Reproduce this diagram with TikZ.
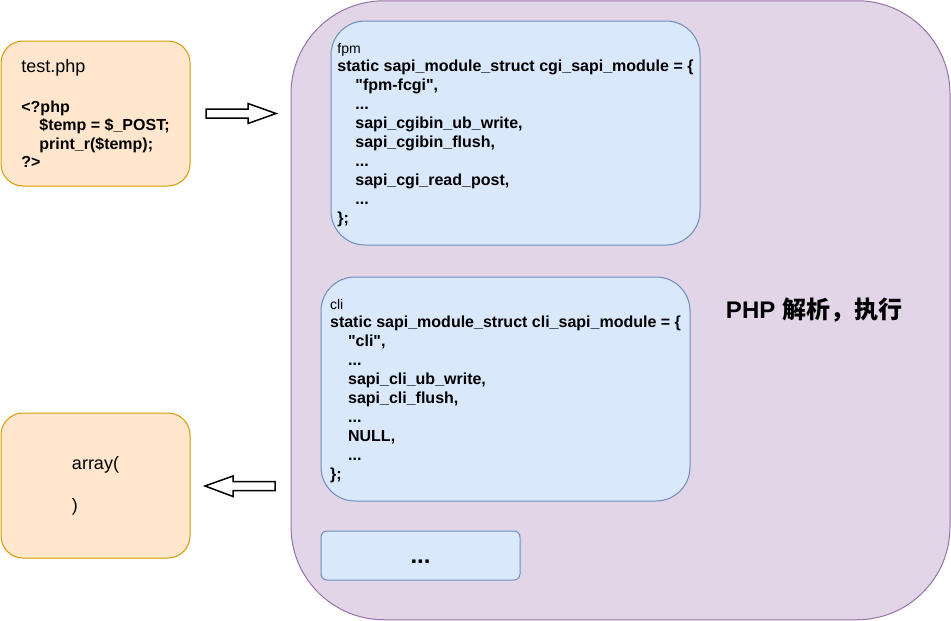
\documentclass[tikz,border=0pt]{standalone}
\usepackage{fontspec}
\setmainfont{Liberation Sans}
\newfontfamily\cjk{Noto Sans CJK SC}
\definecolor{purpleF}{HTML}{E1D5E7}
\definecolor{purpleS}{HTML}{9673A6}
\definecolor{orangeF}{HTML}{FFE6CC}
\definecolor{orangeS}{HTML}{D79B00}
\definecolor{blueF}{HTML}{DAE8FC}
\definecolor{blueS}{HTML}{6C8EBF}
\tikzset{
  cell/.style={line width=1pt, align=left, inner sep=0pt},
  orangebox/.style={cell, draw=orangeS, fill=orangeF, rounded corners=22pt,
    minimum width=189pt, minimum height=145pt},
  bluebox/.style={cell, draw=blueS, fill=blueF, rounded corners=34pt,
    minimum width=369pt, minimum height=224pt},
  codefont/.style={font=\fontsize{16}{19}\selectfont\bfseries},
  blockarrow/.style={draw=black, fill=white, line width=1.5pt, line join=miter},
}
\newcommand{\ind}{\hspace*{18pt}}
\newcommand{\qq}{\textquotedbl}
\begin{document}
\begin{tikzpicture}[x=1pt,y=-1pt]
\useasboundingbox (0,0) rectangle (951,621);
% main container
\node[cell, draw=purpleS, fill=purpleF, rounded corners=93pt,
  minimum width=659pt, minimum height=619pt] (main) at (620.5,310.25) {};
% left boxes
\node[orangebox, font=\fontsize{16}{18.5}\selectfont] (php) at (95.5,113.5)
  {{\fontsize{18}{18.5}\selectfont test.php}\\[21pt]
   \textbf{<?php}\\
   \textbf{\ind\$temp = \$\_POST;}\\
   \textbf{\ind print\_r(\$temp);}\\
   \textbf{?>}};
\node[orangebox, font=\fontsize{18}{21}\selectfont] (res) at (95.5,485.5)
  {array(\\[21pt])};
% fpm box
\node[bluebox, codefont] (fpm) at (515.5,133)
  {\rule{0pt}{15pt}{\fontsize{14}{18}\mdseries\selectfont fpm}\\[-1pt]
   static sapi\_module\_struct cgi\_sapi\_module = \{\\
   \ind\qq fpm-fcgi\qq,\\
   \ind...\\
   \ind sapi\_cgibin\_ub\_write,\\
   \ind sapi\_cgibin\_flush,\\
   \ind...\\
   \ind sapi\_cgi\_read\_post,\\
   \ind...\\
   \};};
% cli box
\node[bluebox, codefont] (cli) at (505.5,389)
  {\rule{0pt}{14pt}{\fontsize{14}{18}\mdseries\selectfont cli}\\[-1pt]
   static sapi\_module\_struct cli\_sapi\_module = \{\\
   \ind\qq cli\qq,\\
   \ind...\\
   \ind sapi\_cli\_ub\_write,\\
   \ind sapi\_cli\_flush,\\
   \ind...\\
   \ind NULL,\\
   \ind...\\
   \};};
% dots box
\node[cell, draw=blueS, fill=blueF, rounded corners=6pt, minimum width=199pt,
  minimum height=49pt, text height=18pt, text depth=2pt,
  font=\fontsize{24}{28}\selectfont\bfseries] (more) at (420.5,555.5) {...};
% label
\node[font=\fontsize{24}{28}\selectfont\bfseries, inner sep=0pt] (lbl) at (814,310)
  {PHP {\cjk 解析，执行}};
% block arrows
\draw[blockarrow] (206,109) -- (248,109) -- (248,103.5) -- (276,113.5) -- (248,123.5)
  -- (248,118) -- (206,118) -- cycle;
\draw[blockarrow] (205,486) -- (233,476) -- (233,481.5) -- (275,481.5) -- (275,490.5)
  -- (233,490.5) -- (233,496.5) -- cycle;
\end{tikzpicture}
\end{document}
